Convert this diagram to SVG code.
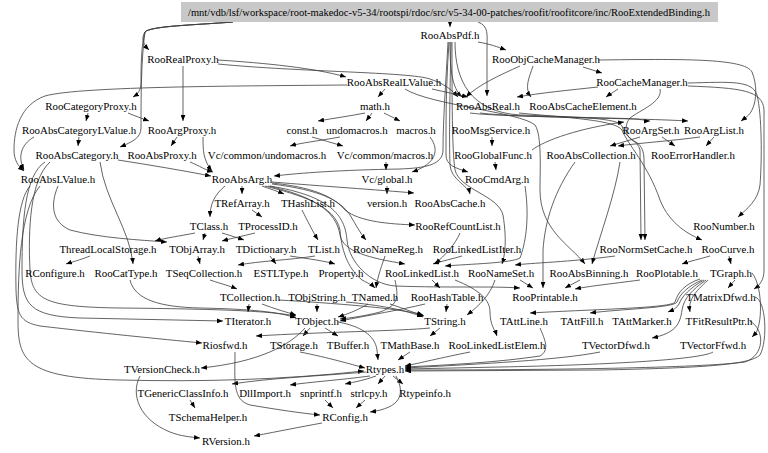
<svg xmlns="http://www.w3.org/2000/svg" width="768" height="453" viewBox="0 0 768 453">
<style>
text{font-family:"Liberation Serif","Times New Roman",serif;font-size:10.9px;fill:#000;text-anchor:middle}
.e{fill:none;stroke:#3c3c3c;stroke-width:0.8;marker-end:url(#a)}
</style>
<defs>
<marker id="a" viewBox="0 0 10 8" refX="10" refY="4" markerWidth="6" markerHeight="5" markerUnits="userSpaceOnUse" orient="auto"><path d="M0,0 L10,4 L0,8 z" fill="#000"/></marker>
</defs>
<rect width="768" height="453" fill="#fff"/>
<g id="edges">
<path class="e" d="M450,22 L450,27"/>
<path class="e" d="M233,22 C195,25 150,26 145,32 C141,38 143,44 149,50"/>
<path class="e" d="M233,22 C195,25 150,26 145,32 C141,45 141,70 141,82 C141,90 138,94 133,97"/>
<path class="e" d="M233,22 C195,25 150,26 145,32 C141,60 141,100 141,128 C141,138 132,142 120,147"/>
<path class="e" d="M478,22 C489,26 487,35 487,48 L487,96"/>
<path class="e" d="M478,42 C490,44 498,47 506,50"/>
<path class="e" d="M450,42 C450,70 452,88 462,97"/>
<path class="e" d="M449,42 C447,70 446,100 446,130 L446,155 C446,165 455,168 468,172"/>
<path class="e" d="M448,42 C446,80 443,120 443,150 C443,165 425,168 400,169 C340,170 300,173 274,176"/>
<path class="e" d="M451,42 C450,90 449,140 450,165 C451,180 468,185 470,194"/>
<path class="e" d="M452,42 C452,100 452,150 455,170 C460,190 498,195 503,215 C507,240 505,255 502,264"/>
<path class="e" d="M455,42 C455,80 470,112 520,115 C580,117 618,118 622,126 C624,138 638,140 640,150 L641,240"/>
<path class="e" d="M218,60 C265,63 315,68 346,77"/>
<path class="e" d="M218,64 C300,72 410,72 430,79 C445,84 452,90 458,97"/>
<path class="e" d="M183,66 L183,121"/>
<path class="e" d="M583,67 L602,73"/>
<path class="e" d="M520,66 C500,75 478,85 466,97"/>
<path class="e" d="M533,66 C529,78 524,88 531,97"/>
<path class="e" d="M598,60 C680,59 745,58 752,72 C757,84 757,100 752,110 C749,116 745,118 741,121"/>
<path class="e" d="M688,83 C730,82 752,80 757,95 C762,115 762,160 760,185 C758,200 748,208 738,217"/>
<path class="e" d="M618,89 C614,92 610,94 606,97"/>
<path class="e" d="M598,87 C570,90 540,93 517,97"/>
<path class="e" d="M660,89 C663,102 640,110 630,118 C624,125 624,138 636,142 C642,146 644,152 644,160 L645,240"/>
<path class="e" d="M688,86 C740,88 763,90 764,110 L764,270 C764,280 760,285 754,289"/>
<path class="e" d="M385,89 L378,97"/>
<path class="e" d="M432,89 C445,92 455,94 468,97"/>
<path class="e" d="M405,89 C430,105 520,112 535,125 C542,135 540,170 540,190 C540,230 570,245 585,264"/>
<path class="e" d="M347,85 C250,86 80,86 45,96 C20,105 14,130 14,150 C14,160 18,166 24,171"/>
<path class="e" d="M365,113 C350,116 335,118 318,121"/>
<path class="e" d="M372,113 L366,121"/>
<path class="e" d="M384,113 C390,116 394,118 400,121"/>
<path class="e" d="M312,137 C322,140 333,143 343,146"/>
<path class="e" d="M340,137 C318,141 300,143 290,146"/>
<path class="e" d="M430,137 C440,150 436,164 412,172"/>
<path class="e" d="M386,162 L386,170"/>
<path class="e" d="M387,186 L387,194"/>
<path class="e" d="M88,113 L86,121"/>
<path class="e" d="M128,113 C135,116 141,118 149,121"/>
<path class="e" d="M79,137 L78,146"/>
<path class="e" d="M177,137 L171,146"/>
<path class="e" d="M34,137 C20,145 18,158 24,170"/>
<path class="e" d="M118,160 C150,165 180,170 211,176"/>
<path class="e" d="M190,162 C200,166 205,170 213,172"/>
<path class="e" d="M203,137 C203,150 203,160 212,171"/>
<path class="e" d="M30,186 C18,200 15,240 16,290 C17,315 20,322 40,326 C100,333 160,339 202,343"/>
<path class="e" d="M40,186 C20,210 18,270 18,320 C18,360 25,378 120,380 C200,382 280,380 364,371"/>
<path class="e" d="M45,162 C25,175 22,220 22,270 C22,305 30,316 80,318 L223,321"/>
<path class="e" d="M100,162 C105,200 130,230 133,264"/>
<path class="e" d="M58,186 C50,205 52,222 70,230 C100,238 140,240 167,242"/>
<path class="e" d="M195,233 C180,236 165,238 155,241"/>
<path class="e" d="M90,256 C80,260 72,262 66,264"/>
<path class="e" d="M50,162 C30,180 28,230 30,270 C32,300 45,307 120,308 C220,309 270,311 296,316"/>
<path class="e" d="M130,280 C135,300 160,307 200,308 C250,309 280,312 296,318"/>
<path class="e" d="M242,186 L242,194"/>
<path class="e" d="M262,186 C270,189 277,191 284,194"/>
<path class="e" d="M272,182 C320,186 380,190 414,193"/>
<path class="e" d="M272,184 C320,190 340,200 350,215 C356,225 360,233 366,240"/>
<path class="e" d="M272,183 C300,186 330,192 345,210 C360,222 390,224 415,225"/>
<path class="e" d="M225,186 C214,195 210,205 210,217"/>
<path class="e" d="M265,186 C300,195 335,205 340,230 C342,255 350,270 362,280 C370,284 373,286 375,288"/>
<path class="e" d="M268,186 C312,196 336,210 340,235 C343,252 370,258 405,264"/>
<path class="e" d="M270,186 C330,196 345,215 347,240 C349,262 370,284 395,286 C450,288 490,286 520,288"/>
<path class="e" d="M302,210 C307,220 313,232 318,240"/>
<path class="e" d="M252,210 L262,217"/>
<path class="e" d="M255,233 C243,236 233,238 222,241"/>
<path class="e" d="M222,233 C232,236 238,238 244,240"/>
<path class="e" d="M205,233 L203,240"/>
<path class="e" d="M198,256 L200,264"/>
<path class="e" d="M315,256 C290,260 260,261 238,265"/>
<path class="e" d="M270,256 L276,264"/>
<path class="e" d="M290,256 C310,259 325,261 335,264"/>
<path class="e" d="M210,280 C222,284 230,286 237,289"/>
<path class="e" d="M249,304 L248,312"/>
<path class="e" d="M262,304 C275,309 286,312 296,315"/>
<path class="e" d="M317,304 L317,312"/>
<path class="e" d="M346,302 C380,305 405,310 423,317"/>
<path class="e" d="M368,304 C358,310 348,314 338,317"/>
<path class="e" d="M390,304 C405,309 415,313 424,316"/>
<path class="e" d="M279,300 C330,303 400,308 423,315"/>
<path class="e" d="M385,256 C382,265 378,275 376,288"/>
<path class="e" d="M460,233 C455,245 445,255 435,264"/>
<path class="e" d="M462,256 C452,259 442,261 433,264"/>
<path class="e" d="M525,186 C530,220 525,245 520,258 C512,263 470,264 445,266"/>
<path class="e" d="M432,280 L440,288"/>
<path class="e" d="M395,280 C398,295 400,305 380,312 C365,316 350,318 340,319"/>
<path class="e" d="M455,280 C480,290 490,300 490,312 C490,325 495,330 497,336"/>
<path class="e" d="M447,304 L446,312"/>
<path class="e" d="M425,304 C400,310 370,315 340,321"/>
<path class="e" d="M520,280 L533,288"/>
<path class="e" d="M495,280 C490,295 480,305 467,315"/>
<path class="e" d="M580,280 L565,288"/>
<path class="e" d="M640,280 C610,284 590,286 575,289"/>
<path class="e" d="M729,256 L731,264"/>
<path class="e" d="M710,256 C700,259 690,261 682,264"/>
<path class="e" d="M615,256 C570,262 530,263 515,265"/>
<path class="e" d="M519,113 C570,118 615,120 622,130 C628,145 648,165 660,200 C670,225 690,235 702,240"/>
<path class="e" d="M620,162 C615,195 600,235 592,264"/>
<path class="e" d="M575,162 C555,190 545,220 543,250 L543,288"/>
<path class="e" d="M470,113 C500,117 600,117 636,119 C645,120 648,121 650,121"/>
<path class="e" d="M480,113 C520,118 640,118 688,121"/>
<path class="e" d="M492,137 L492,146"/>
<path class="e" d="M495,162 L496,170"/>
<path class="e" d="M532,150 C545,140 580,128 624,122"/>
<path class="e" d="M640,137 C630,140 620,143 610,146"/>
<path class="e" d="M700,137 C670,141 640,143 618,146"/>
<path class="e" d="M662,137 L675,146"/>
<path class="e" d="M714,137 L706,146"/>
<path class="e" d="M338,322 C360,326 375,335 377,350 L378,360"/>
<path class="e" d="M310,328 L303,336"/>
<path class="e" d="M325,328 L338,336"/>
<path class="e" d="M430,328 C400,331 320,332 256,336"/>
<path class="e" d="M305,328 C290,345 260,362 201,368"/>
<path class="e" d="M440,328 L430,336"/>
<path class="e" d="M300,352 C330,358 350,364 365,368"/>
<path class="e" d="M410,352 L398,360"/>
<path class="e" d="M470,352 C440,358 420,363 405,366"/>
<path class="e" d="M600,352 C560,360 480,364 405,368"/>
<path class="e" d="M713,352 C700,360 600,365 500,367 L405,369"/>
<path class="e" d="M540,328 C545,340 550,350 540,356 C500,362 450,365 405,367"/>
<path class="e" d="M755,297 C766,300 768,340 760,355 C750,365 700,368 600,370 L405,371"/>
<path class="e" d="M750,321 C765,330 765,355 745,362 C700,368 550,370 405,370"/>
<path class="e" d="M370,376 C340,380 310,382 290,385"/>
<path class="e" d="M376,376 C365,380 355,382 345,384"/>
<path class="e" d="M385,376 L378,384"/>
<path class="e" d="M393,376 L403,384"/>
<path class="e" d="M366,372 C320,376 270,378 232,384"/>
<path class="e" d="M396,376 C406,395 400,408 370,412"/>
<path class="e" d="M325,400 L333,408"/>
<path class="e" d="M365,400 L356,408"/>
<path class="e" d="M235,352 C235,380 232,400 250,405 C280,410 300,413 320,415"/>
<path class="e" d="M322,423 C300,427 280,431 254,436"/>
<path class="e" d="M140,376 C130,395 140,420 170,432 C180,436 190,437 200,438"/>
<path class="e" d="M190,400 L195,408"/>
<path class="e" d="M735,280 L728,288"/>
<path class="e" d="M700,279 C685,284 678,292 675,302 C672,308 600,309 530,313"/>
<path class="e" d="M702,280 C688,286 680,294 677,302 C674,308 620,309 590,313"/>
<path class="e" d="M704,280 C690,288 682,296 679,304 C677,308 673,310 668,312"/>
<path class="e" d="M706,280 C692,290 684,298 682,310 C680,325 675,333 652,338"/>
<path class="e" d="M708,280 C695,292 688,300 690,312"/>
<path class="e" d="M752,273 C762,285 763,320 756,333 L752,337"/>
</g>
<g id="n-root"><rect x="181" y="2" width="537" height="20" fill="#c8c8c8"/><text x="449" y="16" textLength="522" lengthAdjust="spacingAndGlyphs">/mnt/vdb/lsf/workspace/root-makedoc-v5-34/rootspi/rdoc/src/v5-34-00-patches/roofit/roofitcore/inc/RooExtendedBinding.h</text></g>
<g id="n-RooAbsPdf"><text x="450" y="39">RooAbsPdf.h</text></g>
<g id="n-RooRealProxy"><text x="183" y="63">RooRealProxy.h</text></g>
<g id="n-RooObjCacheManager"><text x="546" y="63">RooObjCacheManager.h</text></g>
<g id="n-RooAbsRealLValue"><text x="394" y="86">RooAbsRealLValue.h</text></g>
<g id="n-RooCacheManager"><text x="642" y="86">RooCacheManager.h</text></g>
<g id="n-RooCategoryProxy"><text x="91" y="110">RooCategoryProxy.h</text></g>
<g id="n-math"><text x="375" y="110">math.h</text></g>
<g id="n-RooAbsReal"><text x="488" y="110">RooAbsReal.h</text></g>
<g id="n-RooAbsCacheElement"><text x="583" y="110">RooAbsCacheElement.h</text></g>
<g id="n-RooAbsCategoryLValue"><text x="79" y="134">RooAbsCategoryLValue.h</text></g>
<g id="n-RooArgProxy"><text x="182" y="134">RooArgProxy.h</text></g>
<g id="n-const"><text x="302" y="134">const.h</text></g>
<g id="n-undomacros"><text x="357" y="134">undomacros.h</text></g>
<g id="n-macros"><text x="416" y="134">macros.h</text></g>
<g id="n-RooMsgService"><text x="491" y="134">RooMsgService.h</text></g>
<g id="n-RooArgSet"><text x="651" y="134">RooArgSet.h</text></g>
<g id="n-RooArgList"><text x="714" y="134">RooArgList.h</text></g>
<g id="n-RooAbsCategory"><text x="77" y="159">RooAbsCategory.h</text></g>
<g id="n-RooAbsProxy"><text x="162" y="159">RooAbsProxy.h</text></g>
<g id="n-VcCommonUndomacros"><text x="267" y="159">Vc/common/undomacros.h</text></g>
<g id="n-VcCommonMacros"><text x="385" y="159">Vc/common/macros.h</text></g>
<g id="n-RooGlobalFunc"><text x="493" y="159">RooGlobalFunc.h</text></g>
<g id="n-RooAbsCollection"><text x="591" y="159">RooAbsCollection.h</text></g>
<g id="n-RooErrorHandler"><text x="693" y="159">RooErrorHandler.h</text></g>
<g id="n-RooAbsLValue"><text x="58" y="183">RooAbsLValue.h</text></g>
<g id="n-RooAbsArg"><text x="242" y="183">RooAbsArg.h</text></g>
<g id="n-VcGlobal"><text x="387" y="183">Vc/global.h</text></g>
<g id="n-RooCmdArg"><text x="497" y="183">RooCmdArg.h</text></g>
<g id="n-TRefArray"><text x="242" y="207">TRefArray.h</text></g>
<g id="n-THashList"><text x="308" y="207">THashList.h</text></g>
<g id="n-version"><text x="387" y="207">version.h</text></g>
<g id="n-RooAbsCache"><text x="450" y="207">RooAbsCache.h</text></g>
<g id="n-TClass"><text x="209" y="230">TClass.h</text></g>
<g id="n-TProcessID"><text x="268" y="230">TProcessID.h</text></g>
<g id="n-RooRefCountList"><text x="458" y="230">RooRefCountList.h</text></g>
<g id="n-RooNumber"><text x="724" y="230">RooNumber.h</text></g>
<g id="n-ThreadLocalStorage"><text x="108" y="253">ThreadLocalStorage.h</text></g>
<g id="n-TObjArray"><text x="197" y="253">TObjArray.h</text></g>
<g id="n-TDictionary"><text x="266" y="253">TDictionary.h</text></g>
<g id="n-TList"><text x="324" y="253">TList.h</text></g>
<g id="n-RooNameReg"><text x="388" y="253">RooNameReg.h</text></g>
<g id="n-RooLinkedListIter"><text x="477" y="253">RooLinkedListIter.h</text></g>
<g id="n-RooNormSetCache"><text x="646" y="253">RooNormSetCache.h</text></g>
<g id="n-RooCurve"><text x="728" y="253">RooCurve.h</text></g>
<g id="n-RConfigure"><text x="55" y="277">RConfigure.h</text></g>
<g id="n-RooCatType"><text x="126" y="277">RooCatType.h</text></g>
<g id="n-TSeqCollection"><text x="204" y="277">TSeqCollection.h</text></g>
<g id="n-ESTLType"><text x="281" y="277">ESTLType.h</text></g>
<g id="n-Property"><text x="341" y="277">Property.h</text></g>
<g id="n-RooLinkedList"><text x="422" y="277">RooLinkedList.h</text></g>
<g id="n-RooNameSet"><text x="501" y="277">RooNameSet.h</text></g>
<g id="n-RooAbsBinning"><text x="589" y="277">RooAbsBinning.h</text></g>
<g id="n-RooPlotable"><text x="667" y="277">RooPlotable.h</text></g>
<g id="n-TGraph"><text x="731" y="277">TGraph.h</text></g>
<g id="n-TCollection"><text x="250" y="301">TCollection.h</text></g>
<g id="n-TObjString"><text x="317" y="301">TObjString.h</text></g>
<g id="n-TNamed"><text x="375" y="301">TNamed.h</text></g>
<g id="n-RooHashTable"><text x="447" y="301">RooHashTable.h</text></g>
<g id="n-RooPrintable"><text x="545" y="301">RooPrintable.h</text></g>
<g id="n-TMatrixDfwd"><text x="721" y="301">TMatrixDfwd.h</text></g>
<g id="n-TIterator"><text x="248" y="325">TIterator.h</text></g>
<g id="n-TObject"><text x="317" y="325">TObject.h</text></g>
<g id="n-TString"><text x="445" y="325">TString.h</text></g>
<g id="n-TAttLine"><text x="524" y="325">TAttLine.h</text></g>
<g id="n-TAttFill"><text x="582" y="325">TAttFill.h</text></g>
<g id="n-TAttMarker"><text x="642" y="325">TAttMarker.h</text></g>
<g id="n-TFitResultPtr"><text x="719" y="325">TFitResultPtr.h</text></g>
<g id="n-Riosfwd"><text x="225" y="349">Riosfwd.h</text></g>
<g id="n-TStorage"><text x="294" y="349">TStorage.h</text></g>
<g id="n-TBuffer"><text x="348" y="349">TBuffer.h</text></g>
<g id="n-TMathBase"><text x="410" y="349">TMathBase.h</text></g>
<g id="n-RooLinkedListElem"><text x="497" y="349">RooLinkedListElem.h</text></g>
<g id="n-TVectorDfwd"><text x="616" y="349">TVectorDfwd.h</text></g>
<g id="n-TVectorFfwd"><text x="713" y="349">TVectorFfwd.h</text></g>
<g id="n-TVersionCheck"><text x="162" y="373">TVersionCheck.h</text></g>
<g id="n-Rtypes"><text x="385" y="373">Rtypes.h</text></g>
<g id="n-TGenericClassInfo"><text x="183" y="397">TGenericClassInfo.h</text></g>
<g id="n-DllImport"><text x="265" y="397">DllImport.h</text></g>
<g id="n-snprintf"><text x="321" y="397">snprintf.h</text></g>
<g id="n-strlcpy"><text x="369" y="397">strlcpy.h</text></g>
<g id="n-Rtypeinfo"><text x="425" y="397">Rtypeinfo.h</text></g>
<g id="n-TSchemaHelper"><text x="208" y="421">TSchemaHelper.h</text></g>
<g id="n-RConfig"><text x="345" y="421">RConfig.h</text></g>
<g id="n-RVersion"><text x="226" y="445">RVersion.h</text></g>
</svg>
